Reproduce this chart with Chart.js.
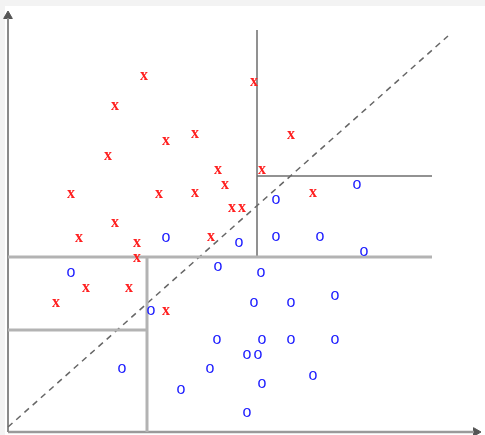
<!DOCTYPE html>
<html>
<head>
<meta charset="utf-8">
<script src="https://cdn.jsdelivr.net/npm/chart.js@4/dist/chart.umd.min.js"></script>
<style>
  html, body { margin: 0; padding: 0; background: #f3f3f3; overflow: hidden; }
  #wrap { width: 485px; height: 435px; }
</style>
</head>
<body>
<div id="wrap"><canvas id="treeChart" width="485" height="435"></canvas></div>
<script>
// class "x" samples (red)
const xClassX = [136,107,246,158,187,283,100,210,217,254,63,151,187,305,224,234,107,71,129,203,129,78,121,48,158];
const xClassY = [356,326,350,291,298,297,276,262,247,262,238,238,239,239,224,224,209,194,189,195,174,144,144,129,121];
// class "o" samples (blue)
const oClassX = [349,268,158,231,268,312,356,63,210,253,143,246,283,327,209,254,283,327,239,250,114,202,305,254,173,239];
const oClassY = [247,232,194,189,195,195,180,159,165,159,121,129,129,136,92,92,92,92,77,77,63,63,56,48,42,19];

// tree splits
const split1 = [[0,175],[424,175]];
const split2 = [[139,175],[139,0]];
const split3 = [[0,102],[139,102]];
const split4 = [[249,402],[249,175]];
const split5 = [[249,256],[424,256]];
// linear boundary
const diagonal = [[0,5],[440,396]];
// axes
const yAxisLine = [[0,0],[0,414]];
const xAxisLine = [[0,0],[466,0]];

const pts = (xs, ys) => xs.map((v, i) => ({x: v, y: ys[i]}));
const seg = (arr) => arr.map(p => ({x: p[0], y: p[1]}));

function lineDs(data, color, width, dash) {
    return {
        data: seg(data),
        showLine: true,
        borderColor: color,
        borderWidth: width,
        borderDash: dash || [],
        pointRadius: 0,
        clip: false
    };
}

const background = {
    id: 'background',
    beforeDraw(chart) {
        const c = chart.ctx;
        c.save();
        c.fillStyle = '#f3f3f3';
        c.fillRect(0, 0, chart.width, chart.height);
        c.fillStyle = '#ffffff';
        c.fillRect(5, 6, chart.width - 5, chart.height - 6);
        c.restore();
    }
};

// draw each sample as its letter
const glyphs = {
    id: 'glyphs',
    afterDatasetsDraw(chart) {
        const c = chart.ctx;
        chart.data.datasets.forEach((ds, i) => {
            if (!ds.glyph) return;
            const meta = chart.getDatasetMeta(i);
            c.save();
            c.font = ds.glyphFont;
            c.fillStyle = ds.glyphColor;
            c.textAlign = 'center';
            c.textBaseline = 'alphabetic';
            meta.data.forEach(el => {
                c.fillText(ds.glyph, el.x, el.y + 4);
            });
            c.restore();
        });
    }
};

const ctx = document.getElementById('treeChart').getContext('2d');
const treeChart = new Chart(ctx, {
    type: 'scatter',
    data: {
        datasets: [
            lineDs(split1, '#b3b3b3', 3),
            lineDs(split2, '#b3b3b3', 3),
            lineDs(split3, '#b3b3b3', 3),
            lineDs(split4, '#6e6e6e', 1.5),
            lineDs(split5, '#6e6e6e', 1.5),
            lineDs(diagonal, '#666666', 1.5, [6, 5]),
            lineDs(yAxisLine, '#8a8a8a', 2),
            lineDs(xAxisLine, '#9a9a9a', 2.5),
            {
                data: [{x: 0, y: 416}],
                pointStyle: 'triangle',
                pointRadius: 5,
                backgroundColor: '#555555',
                borderColor: '#555555',
                clip: false
            },
            {
                data: [{x: 468, y: 0}],
                pointStyle: 'triangle',
                rotation: 90,
                pointRadius: 5,
                backgroundColor: '#555555',
                borderColor: '#555555',
                clip: false
            },
            {
                data: pts(xClassX, xClassY),
                pointRadius: 0,
                glyph: 'x',
                glyphFont: 'bold 16px "Liberation Serif"',
                glyphColor: '#ff2020'
            },
            {
                data: pts(oClassX, oClassY),
                pointRadius: 0,
                glyph: 'o',
                glyphFont: '16px "Liberation Sans"',
                glyphColor: '#2020ff'
            }
        ]
    },
    options: {
        responsive: false,
        animation: false,
        events: [],
        layout: { autoPadding: false, padding: { left: 8, top: 8, right: 5, bottom: 3 } },
        scales: {
            x: { type: 'linear', min: 0, max: 472, display: false },
            y: { type: 'linear', min: 0, max: 424, display: false }
        },
        plugins: {
            legend: { display: false },
            tooltip: { enabled: false }
        }
    },
    plugins: [background, glyphs]
});
</script>
</body>
</html>
